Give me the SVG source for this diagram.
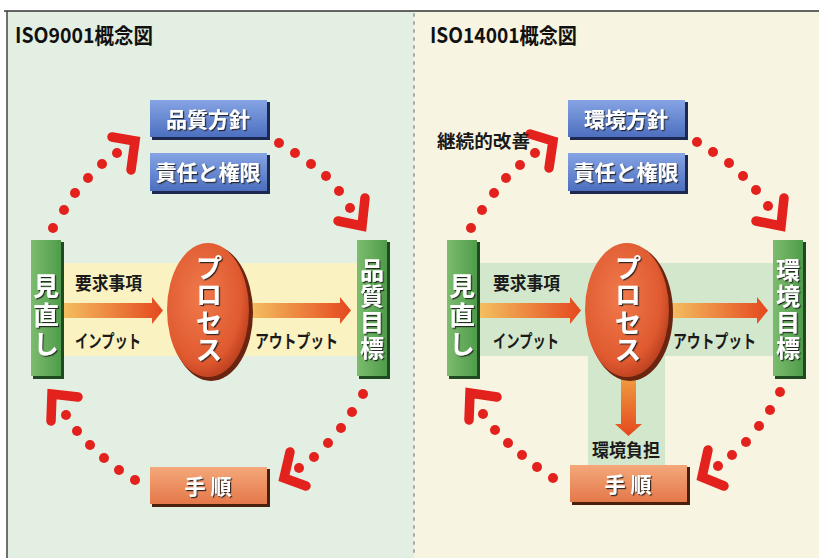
<svg xmlns="http://www.w3.org/2000/svg" width="819" height="558" viewBox="0 0 819 558">
<defs>
<style>
.t{font-family:"Noto Sans CJK JP","Noto Sans",sans-serif;font-weight:bold}
.title{font-size:21px;fill:#111}
.lbl{font-size:18px;fill:#1a1a1a}
.box{font-size:21px;fill:#fff;text-anchor:middle;filter:url(#ts)}
.vt{font-size:26px;fill:#fff;text-anchor:middle;writing-mode:vertical-rl;text-orientation:upright;filter:url(#ts)}
.dot{fill:#e3211d}
.chev{fill:none;stroke:#e3211d;stroke-width:9.5;stroke-linecap:round;stroke-linejoin:miter}
</style>
<filter id="ts" x="-30%" y="-30%" width="160%" height="160%"><feDropShadow dx="1.2" dy="1.2" stdDeviation="0.7" flood-color="#1a1a1a" flood-opacity="0.9"/></filter>
<linearGradient id="gBlue" x1="0" y1="0" x2="0" y2="1"><stop offset="0" stop-color="#86a4e4"/><stop offset="1" stop-color="#4c6fbf"/></linearGradient>
<linearGradient id="gGreen" x1="0" y1="0" x2="1" y2="0"><stop offset="0" stop-color="#7cbc6e"/><stop offset="1" stop-color="#4f9c4a"/></linearGradient>
<linearGradient id="gOrg" x1="0" y1="0" x2="0" y2="1"><stop offset="0" stop-color="#f4a87a"/><stop offset="1" stop-color="#e4784a"/></linearGradient>
<linearGradient id="gArr" x1="0" y1="0" x2="1" y2="0"><stop offset="0" stop-color="#f4c060"/><stop offset="1" stop-color="#e4481e"/></linearGradient>
<linearGradient id="gArrV" x1="0" y1="0" x2="0" y2="1"><stop offset="0" stop-color="#f0a040"/><stop offset="1" stop-color="#e4481e"/></linearGradient>
<radialGradient id="gEll" cx="0.42" cy="0.4" r="0.65"><stop offset="0" stop-color="#ef7a4c"/><stop offset="0.75" stop-color="#e05a30"/><stop offset="1" stop-color="#b83c1c"/></radialGradient>
</defs>

<!-- backgrounds -->
<rect x="0" y="0" width="819" height="558" fill="#ffffff"/>
<rect x="7" y="11" width="407" height="547" fill="#e3efe3"/>
<rect x="414" y="11" width="405" height="547" fill="#f8f4e2"/>
<line x1="4" y1="11" x2="819" y2="11" stroke="#333" stroke-width="1.5"/>
<line x1="7" y1="11" x2="7" y2="558" stroke="#444" stroke-width="1.5"/>
<line x1="414" y1="14" x2="414" y2="558" stroke="#a8aca8" stroke-width="2" stroke-dasharray="2 6" stroke-linecap="round"/>

<!-- bands -->
<rect x="62" y="263" width="296" height="93" fill="#fbf2c2"/>
<rect x="479" y="263" width="294" height="93" fill="#d3e7cc"/>
<rect x="588" y="263" width="77" height="202" fill="#d3e7cc"/>

<text class="t title" x="15" y="43" textLength="138" lengthAdjust="spacingAndGlyphs">ISO9001概念図</text>
<text class="t title" x="430" y="43" textLength="147" lengthAdjust="spacingAndGlyphs">ISO14001概念図</text>

<!-- connectors -->
<g id="connectors">
  <g>
    <circle class="dot" cx="53" cy="228" r="5"/><circle class="dot" cx="64" cy="210" r="5"/><circle class="dot" cx="75" cy="193" r="5"/><circle class="dot" cx="88" cy="178" r="5"/><circle class="dot" cx="102" cy="164" r="5"/><circle class="dot" cx="117" cy="153" r="5"/>
    <polyline class="chev" points="112,137 135,141 131,170"/>
    <circle class="dot" cx="279" cy="143" r="5"/><circle class="dot" cx="295" cy="153" r="5"/><circle class="dot" cx="311" cy="164" r="5"/><circle class="dot" cx="326" cy="176" r="5"/><circle class="dot" cx="339" cy="191" r="5"/><circle class="dot" cx="350" cy="208" r="5"/>
    <polyline class="chev" points="365,198 362,226 338,221"/>
    <circle class="dot" cx="363" cy="394" r="5"/><circle class="dot" cx="352" cy="412" r="5"/><circle class="dot" cx="341" cy="428" r="5"/><circle class="dot" cx="328" cy="443" r="5"/><circle class="dot" cx="314" cy="457" r="5"/><circle class="dot" cx="299" cy="468" r="5"/>
    <polyline class="chev" points="290,452 284,478 306,486"/>
    <circle class="dot" cx="135" cy="480" r="5"/><circle class="dot" cx="119" cy="470" r="5"/><circle class="dot" cx="104" cy="458" r="5"/><circle class="dot" cx="90" cy="445" r="5"/><circle class="dot" cx="77" cy="431" r="5"/><circle class="dot" cx="66" cy="415" r="5"/>
    <polyline class="chev" points="78,397 52,394 51,421"/>
  </g>
  <g>
    <circle class="dot" cx="471" cy="228" r="5"/><circle class="dot" cx="482" cy="210" r="5"/><circle class="dot" cx="494" cy="193" r="5"/><circle class="dot" cx="506" cy="178" r="5"/><circle class="dot" cx="520" cy="165" r="5"/><circle class="dot" cx="535" cy="153" r="5"/>
    <polyline class="chev" points="530,134 553,141 549,168"/>
    <circle class="dot" cx="697" cy="142" r="5"/><circle class="dot" cx="713" cy="152" r="5"/><circle class="dot" cx="729" cy="163" r="5"/><circle class="dot" cx="743" cy="176" r="5"/><circle class="dot" cx="756" cy="190" r="5"/><circle class="dot" cx="768" cy="206" r="5"/>
    <polyline class="chev" points="784,198 781,226 756,221"/>
    <circle class="dot" cx="780" cy="392" r="5"/><circle class="dot" cx="770" cy="410" r="5"/><circle class="dot" cx="759" cy="426" r="5"/><circle class="dot" cx="746" cy="442" r="5"/><circle class="dot" cx="732" cy="455" r="5"/><circle class="dot" cx="718" cy="466" r="5"/>
    <polyline class="chev" points="708,450 702,477 724,486"/>
    <circle class="dot" cx="553" cy="478" r="5"/><circle class="dot" cx="537" cy="467" r="5"/><circle class="dot" cx="522" cy="455" r="5"/><circle class="dot" cx="508" cy="443" r="5"/><circle class="dot" cx="495" cy="430" r="5"/><circle class="dot" cx="483" cy="414" r="5"/>
    <polyline class="chev" points="497,397 470,393 469,420"/>
  </g>
  <polygon points="62,303 152,303 152,297 163,310.5 152,324 152,318 62,318" fill="url(#gArr)"/>
  <polygon points="250,303 340,303 340,297 351,310.5 340,324 340,318 250,318" fill="url(#gArr)"/>
  <polygon points="479,303 570,303 570,297 581,310.5 570,324 570,318 479,318" fill="url(#gArr)"/>
  <polygon points="670,303 757,303 757,297 768,310.5 757,324 757,318 670,318" fill="url(#gArr)"/>
  <polygon points="621,375 636,375 636,424 642,424 628.5,436 615,424 621,424" fill="url(#gArrV)"/>
</g>

<text class="t lbl" x="75" y="290" textLength="67" lengthAdjust="spacingAndGlyphs">要求事項</text>
<text class="t lbl" x="75" y="348" textLength="66" lengthAdjust="spacingAndGlyphs">インプット</text>
<text class="t lbl" x="255" y="348" textLength="83" lengthAdjust="spacingAndGlyphs">アウトプット</text>
<text class="t lbl" x="493" y="290" textLength="67" lengthAdjust="spacingAndGlyphs">要求事項</text>
<text class="t lbl" x="493" y="348" textLength="66" lengthAdjust="spacingAndGlyphs">インプット</text>
<text class="t lbl" x="673" y="348" textLength="83" lengthAdjust="spacingAndGlyphs">アウトプット</text>
<text class="t lbl" x="437" y="148" textLength="93" lengthAdjust="spacingAndGlyphs">継続的改善</text>
<text class="t lbl" x="592" y="457" textLength="68" lengthAdjust="spacingAndGlyphs">環境負担</text>

<!-- left panel nodes -->
<g id="l-policy">
  <rect x="152" y="102" width="118" height="38" fill="#1c2850"/>
  <rect x="150" y="100" width="117" height="37" fill="url(#gBlue)"/>
  <text class="t box" x="208" y="127">品質方針</text>
</g>
<g id="l-resp">
  <rect x="152" y="155" width="118" height="39" fill="#1c2850"/>
  <rect x="150" y="153" width="117" height="38" fill="url(#gBlue)"/>
  <text class="t box" x="208" y="180">責任と権限</text>
</g>
<g id="l-review">
  <rect x="33" y="242" width="31" height="137" fill="#1f4a1f"/>
  <rect x="31" y="240" width="30" height="136" fill="url(#gGreen)"/>
  <text class="t vt" x="46" y="317" style="letter-spacing:3px">見直し</text>
</g>
<g id="l-process">
  <ellipse cx="211" cy="313" rx="42" ry="68" fill="#6a2410"/>
  <ellipse cx="208" cy="310" rx="41" ry="67" fill="url(#gEll)"/>
  <text class="t vt" x="209" y="309" style="font-size:27px;letter-spacing:0.5px">プロセス</text>
</g>
<g id="l-goal">
  <rect x="359" y="242" width="31" height="137" fill="#1f4a1f"/>
  <rect x="357" y="240" width="30" height="136" fill="url(#gGreen)"/>
  <text class="t vt" x="372" y="310" style="font-size:24px;letter-spacing:2px">品質目標</text>
</g>
<g id="l-proc">
  <rect x="152" y="469" width="118" height="38" fill="#4a200c"/>
  <rect x="150" y="467" width="117" height="37" fill="url(#gOrg)"/>
  <text class="t box" x="208" y="494">手 順</text>
</g>

<!-- right panel nodes -->
<g id="r-policy">
  <rect x="570" y="102" width="118" height="38" fill="#1c2850"/>
  <rect x="568" y="100" width="117" height="37" fill="url(#gBlue)"/>
  <text class="t box" x="626" y="127">環境方針</text>
</g>
<g id="r-resp">
  <rect x="570" y="155" width="118" height="39" fill="#1c2850"/>
  <rect x="568" y="153" width="117" height="38" fill="url(#gBlue)"/>
  <text class="t box" x="626" y="180">責任と権限</text>
</g>
<g id="r-review">
  <rect x="449" y="242" width="31" height="137" fill="#1f4a1f"/>
  <rect x="447" y="240" width="30" height="136" fill="url(#gGreen)"/>
  <text class="t vt" x="462" y="317" style="letter-spacing:3px">見直し</text>
</g>
<g id="r-process">
  <ellipse cx="630" cy="313" rx="43" ry="68" fill="#6a2410"/>
  <ellipse cx="627" cy="310" rx="42" ry="67" fill="url(#gEll)"/>
  <text class="t vt" x="628" y="309" style="font-size:27px;letter-spacing:0.5px">プロセス</text>
</g>
<g id="r-goal">
  <rect x="775" y="242" width="31" height="137" fill="#1f4a1f"/>
  <rect x="773" y="240" width="30" height="136" fill="url(#gGreen)"/>
  <text class="t vt" x="788" y="310" style="font-size:24px;letter-spacing:2px">環境目標</text>
</g>
<g id="r-proc">
  <rect x="572" y="467" width="118" height="38" fill="#4a200c"/>
  <rect x="570" y="465" width="117" height="37" fill="url(#gOrg)"/>
  <text class="t box" x="628" y="492">手 順</text>
</g>
</svg>
